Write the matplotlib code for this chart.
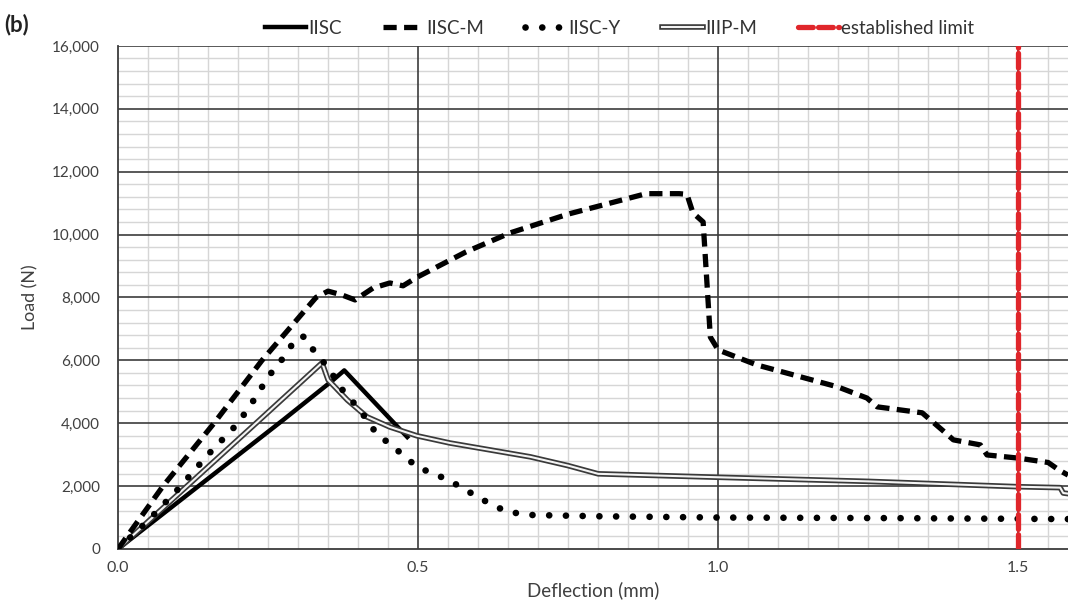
import matplotlib
matplotlib.use("Agg")
import matplotlib.pyplot as plt
import matplotlib.patheffects as pe
from matplotlib.ticker import MultipleLocator, FixedLocator, FuncFormatter

plt.rcParams["font.family"] = ["Lato", "DejaVu Sans"]

# data (deflection mm, load N)
iisc_x = [0.0, 0.275, 0.357, 0.377, 0.482]
iisc_y = [0, 4100, 5350, 5680, 3560]

iiscm_x = [0.0, 0.075, 0.16, 0.24, 0.33, 0.35, 0.373, 0.395, 0.425, 0.453, 0.475,
           0.498, 0.58, 0.653, 0.75, 0.82, 0.88, 0.935, 0.948, 0.958, 0.975,
           0.987, 0.995, 1.0, 1.065, 1.2, 1.248, 1.265, 1.34, 1.373, 1.392,
           1.437, 1.448, 1.5, 1.55, 1.568, 1.583]
iiscm_y = [0, 2000, 4000, 6000, 8000, 8200, 8080, 7920, 8300, 8460, 8370,
           8640, 9450, 10050, 10650, 11000, 11300, 11300, 11280, 10690, 10400,
           6740, 6490, 6330, 5850, 5150, 4800, 4520, 4330, 3790, 3470,
           3310, 2990, 2890, 2750, 2510, 2350]

iiscy_x = [0.0, 0.05, 0.10, 0.15, 0.20, 0.23, 0.25, 0.275, 0.29, 0.305, 0.315,
           0.323, 0.337, 0.353, 0.37, 0.403, 0.43, 0.475, 0.498, 0.55, 0.608,
           0.648, 0.69, 0.8, 1.0, 1.3, 1.583]
iiscy_y = [0, 900, 1900, 3000, 4000, 4840, 5470, 6070, 6500, 6780, 6700,
           6390, 6070, 5690, 5150, 4420, 3690, 2990, 2610, 2200, 1560,
           1180, 1080, 1040, 1000, 980, 950]

iiipm_x = [0.0, 0.115, 0.23, 0.34, 0.35, 0.382, 0.415, 0.453, 0.498, 0.553,
           0.687, 0.75, 0.80, 1.0, 1.25, 1.5, 1.57, 1.575, 1.583]
iiipm_y = [0, 2000, 4000, 5920, 5380, 4740, 4200, 3880, 3600, 3370,
           2930, 2650, 2390, 2280, 2150, 1980, 1950, 1780, 1760]

limit_x = 1.5
limit_y = [0, 16000]

fig = plt.figure(figsize=(10.68, 6.12), dpi=100)
ax = fig.add_axes([0.1105, 0.103, 0.8895, 0.822])

ax.plot(iisc_x, iisc_y, color="black", lw=3.2, label="IISC", zorder=4)
ax.plot(iiscm_x, iiscm_y, color="black", lw=3.8, dashes=(2.5, 1.4),
        label="IISC-M", zorder=5)
ax.plot(iiscy_x, iiscy_y, color="black", lw=4.8, dashes=(0.01, 2.5),
        dash_capstyle="round", label="IISC-Y", zorder=5)
ax.plot(iiipm_x, iiipm_y, color="#f4f4f4", lw=1.5, label="IIIP-M", zorder=4,
        path_effects=[pe.Stroke(linewidth=4.0, foreground="#3a3a3a"), pe.Normal()])
ax.plot([limit_x, limit_x], limit_y, color="#e0262b", lw=3.8, dashes=(2.8, 1.0),
        dash_capstyle="round", label="established limit", zorder=6)

ax.set_xlim(0, 1.583)
ax.set_ylim(0, 16000)
ax.xaxis.set_major_locator(MultipleLocator(0.5))
ax.yaxis.set_major_locator(MultipleLocator(2000))
ax.xaxis.set_minor_locator(FixedLocator([k * 0.05 for k in range(33) if k % 10]))
ax.yaxis.set_minor_locator(FixedLocator([k * 400 for k in range(41) if k % 5]))
ax.xaxis.set_major_formatter(FuncFormatter(lambda v, p: f"{v:.1f}"))
ax.yaxis.set_major_formatter(FuncFormatter(lambda v, p: f"{v:,.0f}"))

# light minor grid from the axis, dark major grid drawn on top of it
ax.grid(which="minor", color="#d6d6d6", lw=1.0)
ax.set_axisbelow(True)
for v in [0.5, 1.0, 1.5]:
    ax.axvline(v, color="#3c3c3c", lw=1.2, zorder=1)
for v in range(2000, 16001, 2000):
    ax.axhline(v, color="#3c3c3c", lw=1.2, zorder=1)

for s in ["top", "right"]:
    ax.spines[s].set_visible(False)
for s in ["left", "bottom"]:
    ax.spines[s].set_color("#3c3c3c")
    ax.spines[s].set_linewidth(1.3)

ax.tick_params(which="both", length=0)
ax.tick_params(axis="y", pad=13, labelsize=11, labelcolor="#404040")
ax.tick_params(axis="x", pad=9, labelsize=11.5, labelcolor="#404040")

ax.set_xlabel("Deflection (mm)", fontsize=13.5, color="#404040", labelpad=4)
ax.set_ylabel("Load (N)", fontsize=12.8, color="#404040", labelpad=10)

fig.text(0.004, 0.948, "(b)", fontsize=16, fontweight="bold", color="#222222")

fig.legend(loc="upper center", bbox_to_anchor=(0.58, 0.995), ncol=5, frameon=False,
           fontsize=13.5, handlelength=2.2, handletextpad=0.1, columnspacing=2.2,
           labelcolor="#333333")

fig.savefig("out.png", dpi=100)
